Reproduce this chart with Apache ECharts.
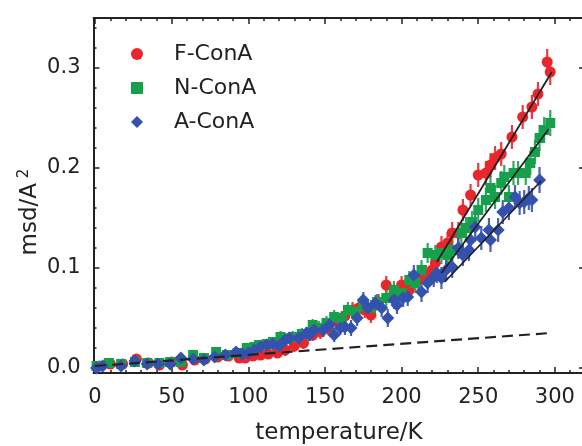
<!DOCTYPE html>
<html>
<head>
<meta charset="utf-8">
<script src="https://cdn.jsdelivr.net/npm/echarts@6.0.0/dist/echarts.min.js"></script>
<style>html,body{margin:0;padding:0;background:#fff}#c{width:582px;height:446px}</style>
</head>
<body>
<div id="c"></div>
<script>
// ---- data: [temperature K, msd, error] ----
const seriesNames = ['F-ConA', 'N-ConA', 'A-ConA'];
const fConA = [[3,0.002,0.003],[10,0.004,0.003],[18,0.004,0.003],[27,0.009,0.003],[35,0.005,0.003],[42,0.003,0.003],[50,0.006,0.003],[57,0.003,0.003],[65,0.008,0.004],[72,0.009,0.004],[80,0.011,0.004],[87,0.012,0.004],[94,0.010,0.004],[98,0.010,0.005],[103,0.012,0.005],[108,0.013,0.005],[113,0.014,0.005],[119,0.015,0.005],[124,0.018,0.006],[130,0.022,0.006],[136,0.025,0.006],[142,0.033,0.006],[147,0.036,0.007],[152,0.040,0.007],[158,0.047,0.007],[163,0.052,0.007],[168,0.058,0.008],[172,0.060,0.008],[176,0.058,0.008],[180,0.053,0.008],[185,0.066,0.008],[190,0.083,0.009],[195,0.075,0.009],[200,0.083,0.009],[205,0.078,0.009],[211,0.088,0.010],[216,0.093,0.010],[220,0.098,0.010],[222,0.105,0.010],[226,0.121,0.011],[230,0.125,0.011],[233,0.135,0.011],[237,0.135,0.011],[240,0.158,0.011],[245,0.173,0.011],[250,0.193,0.012],[255,0.195,0.012],[258,0.203,0.012],[261,0.210,0.012],[265,0.214,0.012],[272,0.231,0.012],[279,0.251,0.012],[285,0.261,0.012],[289,0.274,0.012],[295,0.306,0.013],[297,0.296,0.013]];
const nConA = [[1,0.002,0.003],[9,0.005,0.003],[17,0.004,0.003],[26,0.006,0.003],[34,0.005,0.003],[42,0.005,0.003],[49,0.006,0.003],[56,0.006,0.003],[64,0.013,0.004],[71,0.010,0.004],[79,0.016,0.004],[86,0.013,0.004],[93,0.015,0.004],[99,0.020,0.005],[104,0.021,0.005],[107,0.023,0.005],[112,0.024,0.005],[116,0.026,0.005],[121,0.031,0.006],[125,0.029,0.006],[129,0.031,0.006],[135,0.034,0.006],[142,0.043,0.006],[146,0.040,0.007],[151,0.045,0.007],[156,0.051,0.007],[161,0.050,0.007],[165,0.058,0.008],[170,0.056,0.008],[175,0.062,0.008],[180,0.060,0.008],[184,0.066,0.008],[190,0.070,0.009],[195,0.078,0.009],[200,0.075,0.009],[205,0.088,0.009],[209,0.085,0.010],[213,0.098,0.010],[217,0.115,0.010],[222,0.113,0.010],[226,0.115,0.011],[230,0.113,0.011],[233,0.118,0.011],[239,0.135,0.011],[242,0.140,0.011],[246,0.146,0.011],[250,0.158,0.012],[255,0.168,0.012],[258,0.180,0.012],[261,0.171,0.012],[265,0.185,0.012],[267,0.191,0.012],[270,0.171,0.012],[273,0.195,0.012],[276,0.195,0.012],[281,0.195,0.012],[284,0.205,0.012],[287,0.216,0.012],[290,0.230,0.013],[293,0.238,0.013],[297,0.245,0.013]];
const aConA = [[1,0.000,0.003],[5,0.002,0.003],[17,0.002,0.003],[26,0.007,0.003],[34,0.004,0.003],[41,0.004,0.003],[49,0.004,0.003],[56,0.010,0.003],[64,0.009,0.004],[71,0.008,0.004],[78,0.011,0.004],[85,0.013,0.004],[92,0.016,0.004],[96,0.014,0.005],[100,0.015,0.005],[104,0.018,0.005],[108,0.021,0.005],[112,0.023,0.005],[116,0.024,0.005],[120,0.022,0.006],[124,0.028,0.006],[127,0.030,0.006],[133,0.030,0.006],[138,0.035,0.006],[140,0.033,0.006],[143,0.038,0.007],[149,0.038,0.007],[153,0.043,0.007],[156,0.033,0.007],[160,0.040,0.007],[163,0.041,0.008],[167,0.040,0.008],[171,0.050,0.008],[175,0.068,0.008],[178,0.060,0.008],[183,0.065,0.008],[187,0.060,0.009],[191,0.050,0.009],[195,0.068,0.009],[197,0.063,0.009],[201,0.070,0.009],[204,0.071,0.009],[208,0.093,0.010],[213,0.076,0.010],[217,0.085,0.010],[221,0.091,0.010],[223,0.095,0.010],[226,0.090,0.011],[229,0.098,0.011],[233,0.101,0.011],[237,0.120,0.011],[240,0.113,0.011],[244,0.118,0.011],[245,0.128,0.011],[248,0.141,0.012],[252,0.130,0.012],[257,0.138,0.012],[258,0.128,0.012],[263,0.138,0.012],[266,0.156,0.012],[270,0.160,0.012],[274,0.171,0.012],[277,0.165,0.012],[280,0.166,0.012],[283,0.170,0.012],[285,0.168,0.012],[290,0.188,0.013]];
// fit lines
const fitF = [[223,0.106],[298,0.296]];
const fitN = [[226,0.095],[296,0.239]];
const fitA = [[228,0.086],[291,0.187]];
const harmonic = [[0,0.002],[297,0.035]];
// ticks
const xMajorTicks = [0, 50, 100, 150, 200, 250, 300];
const xMinorTicks = [10,20,30,40,60,70,80,90,110,120,130,140,160,170,180,190,210,220,230,240,260,270,280,290,310];
const yMajorTicks = [0, 0.1, 0.2, 0.3];
const yMinorTicks = [0.02,0.04,0.06,0.08,0.12,0.14,0.16,0.18,0.22,0.24,0.26,0.28,0.32,0.34];

const FONT = 'DejaVu Sans';
const INK = '#222';
const colors = ['#e8262b', '#17a04c', '#3551ae'];
const symbols = ['circle', 'rect', 'diamond'];
const symSizes = [11, 10, 13];

function errSeries(data, color) {
  return {
    type: 'custom', xAxisIndex: 0, yAxisIndex: 0, data: data,
    encode: {x: 0, y: 1},
    silent: true, z: 2,
    renderItem: function (params, api) {
      const x = api.value(0), y = api.value(1), e = api.value(2);
      const p1 = api.coord([x, y - e]), p2 = api.coord([x, y + e]);
      return {type: 'line', shape: {x1: p1[0], y1: p1[1], x2: p2[0], y2: p2[1]},
        style: {stroke: color, lineWidth: 2.2, opacity: 0.9}};
    }
  };
}
function pts(name, data, i) {
  return {type: 'scatter', name: name, data: data.map(d => [d[0], d[1]]), symbol: symbols[i],
    xAxisIndex: 0, yAxisIndex: 0,
    symbolSize: symSizes[i], itemStyle: {color: colors[i], opacity: 1}, z: 3, silent: true};
}
function fit(data, dashed) {
  return {type: 'line', data: data, symbol: 'none', silent: true, z: 5, xAxisIndex: 0, yAxisIndex: 0,
    lineStyle: {color: INK, width: dashed ? 2.2 : 1.8, type: dashed ? [11, 6] : 'solid'}};
}

const tickStyle = {color: INK, width: 1.5};
function xAx(pos, ticks, len, showLine, showLabel) {
  return {type: 'value', min: -1, max: 317.7, position: pos,
    axisLine: {show: showLine, onZero: false, lineStyle: {color: INK, width: 2}},
    axisTick: {show: true, inside: true, length: len, customValues: ticks, lineStyle: tickStyle},
    axisLabel: showLabel ? {show: true, customValues: ticks, fontFamily: FONT, fontSize: 21, color: INK, margin: 14}
                         : {show: false},
    splitLine: {show: false}};
}
function yAx(pos, ticks, len, showLine, showLabel) {
  return {type: 'value', min: -0.005, max: 0.35, position: pos,
    axisLine: {show: showLine, onZero: false, lineStyle: {color: INK, width: 2}},
    axisTick: {show: true, inside: true, length: len, customValues: ticks, lineStyle: tickStyle},
    axisLabel: showLabel ? {show: true, customValues: ticks, formatter: v => v.toFixed(1),
                            fontFamily: FONT, fontSize: 21, color: INK, margin: 13}
                         : {show: false},
    splitLine: {show: false}};
}

const chart = echarts.init(document.getElementById('c'), null, {renderer: 'canvas'});
chart.setOption({
  animation: false,
  backgroundColor: '#fff',
  grid: {left: 93.5, right: 0, top: 18, bottom: 73, containLabel: false, outerBoundsMode: 'none'},
  xAxis: [
    xAx('bottom', xMajorTicks, 6, true, true),
    xAx('bottom', xMinorTicks, 3, false, false),
    xAx('top', xMajorTicks, 6, true, false),
    xAx('top', xMinorTicks, 3, false, false)
  ],
  yAxis: [
    yAx('left', yMajorTicks, 6, true, true),
    yAx('left', yMinorTicks, 3, false, false),
    yAx('right', yMajorTicks, 3, false, false)
  ],
  legend: {
    show: true, orient: 'vertical', left: 126, top: 38, itemWidth: 12, itemHeight: 12, itemGap: 12,
    selectedMode: false,
    data: seriesNames.map((n, i) => ({name: n, icon: symbols[i], itemStyle: {color: colors[i]}})),
    textStyle: {fontFamily: FONT, fontSize: 22, color: INK, lineHeight: 22, padding: [0, 0, 0, 26]}
  },
  graphic: [
    {type: 'text', position: [339, 433],
      style: {text: 'temperature/K', fontFamily: FONT, fontSize: 23, fill: INK, align: 'center', verticalAlign: 'middle'}},
    {type: 'text', position: [30, 212], rotation: Math.PI / 2,
      style: {text: '{n|msd/A}{s| 2}', align: 'center', verticalAlign: 'middle',
        rich: {n: {fontFamily: FONT, fontSize: 23, fill: INK, color: INK},
               s: {fontFamily: FONT, fontSize: 15, fill: INK, color: INK, padding: [0, 0, 12, 0]}}}}
  ],
  series: [
    errSeries(fConA, colors[0]), pts(seriesNames[0], fConA, 0),
    errSeries(nConA, colors[1]), pts(seriesNames[1], nConA, 1),
    errSeries(aConA, colors[2]), pts(seriesNames[2], aConA, 2),
    fit(fitF, false), fit(fitN, false), fit(fitA, false), fit(harmonic, true)
  ]
});
</script>
</body>
</html>
